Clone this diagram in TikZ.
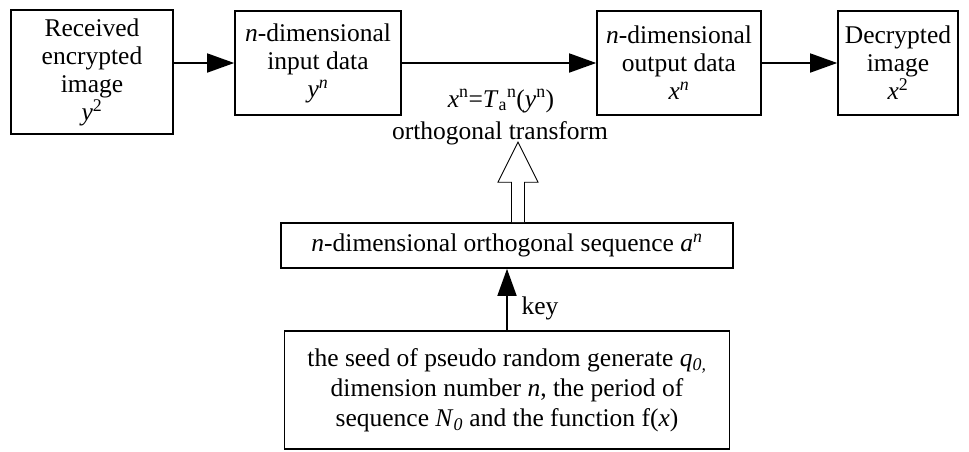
\documentclass[tikz,border=0pt]{standalone}
\usepackage{fontspec}
\setmainfont{Liberation Serif}
\usetikzlibrary{arrows.meta,calc}
\newcommand{\iv}[1]{\textit{#1}}
\begin{document}
\begin{tikzpicture}[x=1pt,y=-1pt,
  txt/.style={inner sep=0pt,align=center,font=\fontsize{25.5}{28}\selectfont},
  box/.style={txt,draw,line width=1.6pt},
  arr/.style={line width=1.6pt,-{Triangle[length=27pt,width=19pt]}},
  hollow/.style={line width=0.9pt,fill=white,line join=miter}
]
\useasboundingbox (0,0) rectangle (969,451);
\node[box,minimum width=162pt,minimum height=124pt] (b1) at (92,72)
  {Received\\encrypted\\image\\\iv{y}\textsuperscript{2}};
\node[box,minimum width=166pt,minimum height=104pt] (b2) at (318,63)
  {\iv{n}-dimensional\\input data\\\iv{y}\textsuperscript{\iv{n}}};
\node[box,minimum width=164pt,minimum height=104pt] (b3) at (679,63)
  {\iv{n}-dimensional\\output data\\\iv{x}\textsuperscript{\iv{n}}};
\node[box,minimum width=120pt,minimum height=104pt] (b4) at (898,63)
  {Decrypted\\image\\\iv{x}\textsuperscript{2}};
\node[box,minimum width=452pt,minimum height=45pt] (b5) at (507,245.5)
  {\iv{n}-dimensional orthogonal sequence \iv{a}\textsuperscript{\iv{n}}};
\node[box,minimum width=445pt,minimum height=118pt,font=\fontsize{25.5}{30}\selectfont] (b6) at (507,390)
  {the seed of pseudo random generate \iv{q}\textsubscript{\iv{0,}}\\
   dimension number \iv{n}, the period of\\
   sequence \iv{N}\textsubscript{\iv{0}} and the function f(\iv{x})};
\node[txt,anchor=base] (lab1) at (501,107)
  {\iv{x}\textsuperscript{n}=\iv{T}\textsubscript{a}\textsuperscript{n}(\iv{y}\textsuperscript{n})};
\node[txt,anchor=base] (lab2) at (500,139) {orthogonal transform};
\node[txt] (key) at (540,308) {key};
\draw[arr] (b1.east |- b2.west) -- (b2.west);
\draw[arr] (b2) -- (b3);
\draw[arr] (b3) -- (b4);
\draw[arr] (b6.north) -- (b5.south);
\coordinate (hb) at ($(b5.north)+(11,0)$);
\draw[hollow] ($(hb)+(-6.5,0)$) -- ++(0,-40) -- ++(-13.5,0) -- ($(hb)+(0,-80)$)
  -- ($(hb)+(20,-40)$) -- ($(hb)+(6.5,-40)$) -- ($(hb)+(6.5,0)$);
\end{tikzpicture}
\end{document}
